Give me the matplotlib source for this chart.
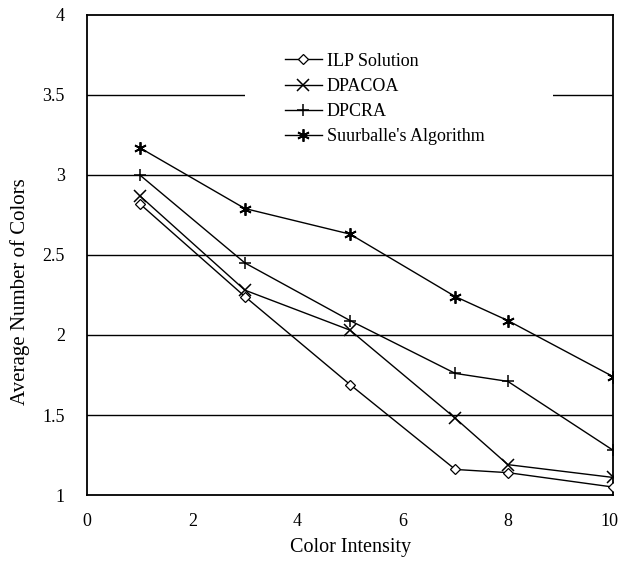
import matplotlib
matplotlib.use("Agg")
import matplotlib.pyplot as plt
from matplotlib.patches import Rectangle

plt.rcParams['font.family'] = ['Liberation Serif', 'DejaVu Serif']

intensity = [1, 3, 5, 7, 8, 10]
ilp = [2.82, 2.24, 1.69, 1.16, 1.14, 1.05]
dpacoa = [2.87, 2.28, 2.03, 1.48, 1.19, 1.11]
dpcra = [3.00, 2.45, 2.09, 1.76, 1.71, 1.28]
suurballe = [3.17, 2.79, 2.63, 2.24, 2.09, 1.74]

y_ticks = [1, 1.5, 2, 2.5, 3, 3.5, 4]
y_tick_labels = ['1', '1.5', '2', '2.5', '3', '3.5', '4']
x_ticks = [0, 2, 4, 6, 8, 10]
x_tick_labels = ['0', '2', '4', '6', '8', '10']

fig = plt.figure(figsize=(6.18, 5.71), dpi=100)
ax = fig.add_axes([0.141, 0.133, 0.851, 0.841])

for yv in y_ticks[1:-1]:
    ax.axhline(yv, color='black', lw=1.0, zorder=1)

# white box behind the legend (hides part of the 3.5 grid line)
ax.add_patch(Rectangle((0.30, 0.70), 0.586, 0.26, transform=ax.transAxes,
                       facecolor='white', edgecolor='none', zorder=2))

ax.plot(intensity, ilp, color='black', lw=1, marker='D', ms=5.5, mfc='white', mec='black', mew=0.9,
        label='ILP Solution', zorder=3)
ax.plot(intensity, dpacoa, color='black', lw=1, marker='x', ms=9, mew=1.1,
        label='DPACOA', zorder=3)
ax.plot(intensity, dpcra, color='black', lw=1, marker='+', ms=9, mew=1.1,
        label='DPCRA', zorder=3)
ax.plot(intensity, suurballe, color='black', lw=1, marker=(6, 2, 0), ms=9, mew=1.3,
        label="Suurballe's Algorithm", zorder=3)

ax.set_xlim(0, 10)
ax.set_ylim(1, 4)
ax.set_xticks(x_ticks)
# last label is placed by hand so it stays inside the figure
ax.set_xticklabels(x_tick_labels[:-1] + [''])
ax.annotate(x_tick_labels[-1], xy=(x_ticks[-1], 0), xycoords=('data', 'axes fraction'),
            xytext=(4, -13), textcoords='offset points', ha='right', va='top', fontsize=13)
ax.set_yticks(y_ticks)
ax.set_yticklabels(y_tick_labels)
ax.tick_params(axis='y', length=0, labelsize=13, pad=16)
ax.tick_params(axis='x', length=0, labelsize=13, pad=13)
for s in ax.spines.values():
    s.set_linewidth(1.3)

ax.set_xlabel('Color Intensity', fontsize=14.5, labelpad=6)
ax.set_ylabel('Average Number of Colors', fontsize=15)
ax.yaxis.set_label_coords(-0.108, 0.423)

leg = ax.legend(loc='upper left', bbox_to_anchor=(0.376, 0.921), frameon=False, fontsize=13,
                handlelength=2.05, handletextpad=0.28, labelspacing=0.45, borderpad=0,
                borderaxespad=0)
leg.set_zorder(5)

fig.savefig('out.png', dpi=100)
